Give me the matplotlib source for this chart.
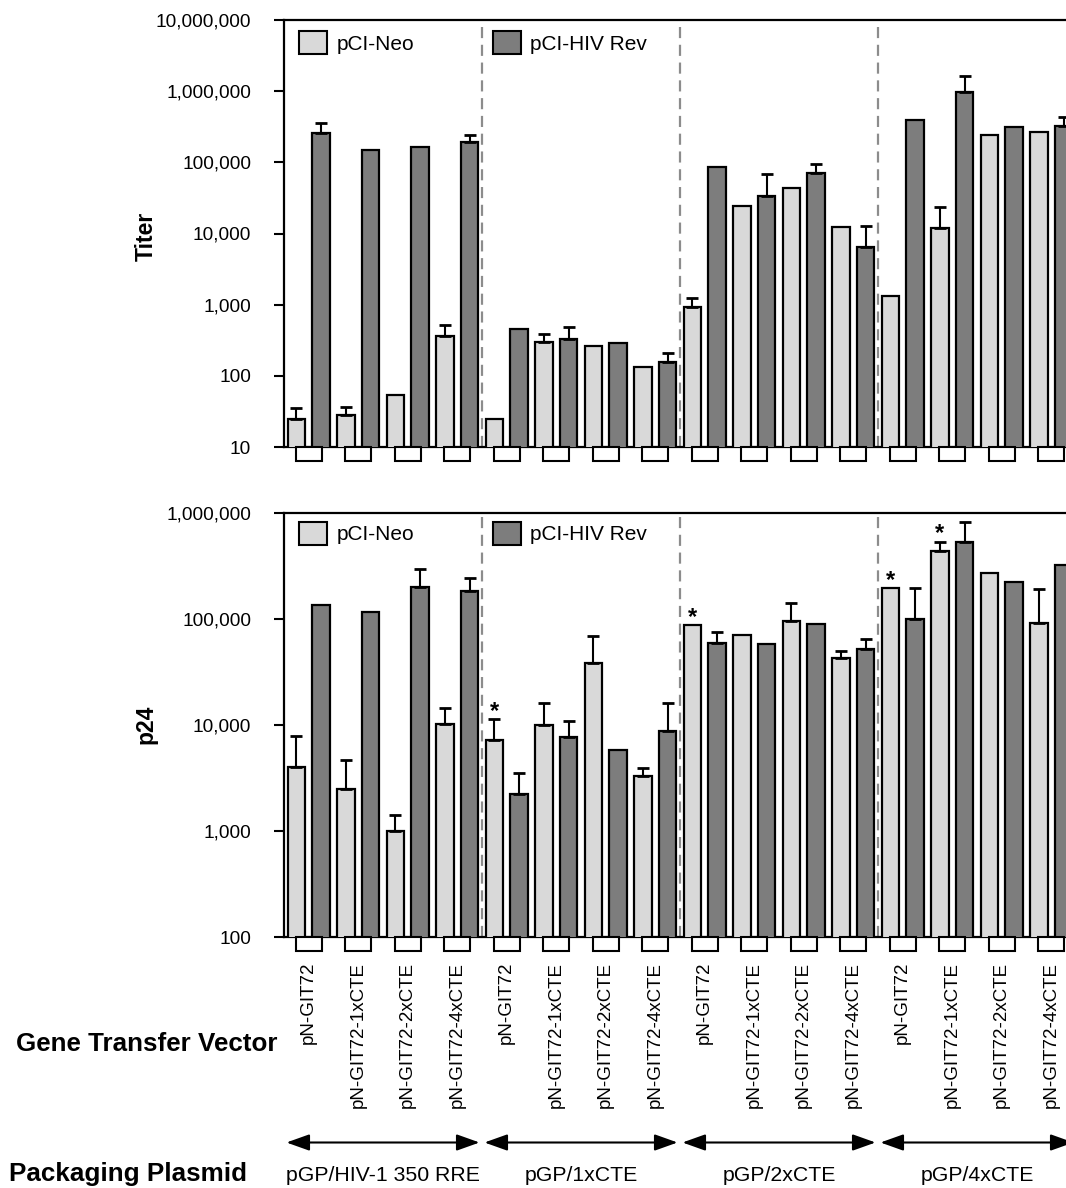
import numpy as np
import matplotlib
matplotlib.use('Agg')
import matplotlib.pyplot as plt
from matplotlib.patches import Patch, Rectangle
from matplotlib.ticker import FixedLocator, FixedFormatter, NullLocator

plt.rcParams['font.family'] = ['Liberation Sans', 'DejaVu Sans']

# ---------------- data ----------------
vectors = ['pN-GIT72', 'pN-GIT72-1xCTE', 'pN-GIT72-2xCTE', 'pN-GIT72-4xCTE'] * 4
packaging = ['pGP/HIV-1 350 RRE', 'pGP/1xCTE', 'pGP/2xCTE', 'pGP/4xCTE']
series = ['pCI-Neo', 'pCI-HIV Rev']

titer_neo = [25, 28, 53, 360, 25, 300, 265, 134, 940, 24600, 43200, 12200, 1320, 11800, 242000, 269000]
titer_neo_err = [35, 37, None, 520, None, 385, None, None, 1230, None, None, None, None, 23800, None, None]
titer_rev = [260000, 151000, 166000, 191000, 450, 332, 286, 155, 85100, 33700, 70800, 6520, 393000, 973000, 310000, 327000]
titer_rev_err = [353000, None, None, 244000, None, 481, None, 211, None, 68500, 94700, 12900, None, 1630000, None, 437000]

p24_neo = [4020, 2460, 994, 10200, 7220, 9930, 38700, 3300, 87100, 70600, 94400, 42900, 193000, 435000, 268000, 90300]
p24_neo_err = [7870, 4640, 1410, 14300, 11300, 15900, 69100, 3960, None, None, 139600, 49200, None, 533000, None, 189000]
p24_rev = [134600, 116000, 197600, 183700, 2220, 7710, 5770, 8710, 59400, 57300, 89100, 52100, 98600, 525000, 223400, 318600]
p24_rev_err = [None, None, 292000, 240000, 3530, 10830, None, 15900, 74300, None, None, 64800, 196000, 822000, None, None]
p24_neo_sig = [False, False, False, False, True, False, False, False,
               True, False, False, False, True, True, False, False]

titer_ticks = [10, 100, 1000, 10000, 100000, 1000000, 10000000]
p24_ticks = [100, 1000, 10000, 100000, 1000000]

# ---------------- style ----------------
LIGHT = '#d9d9d9'
DARK = '#7d7d7d'
W, H = 1066, 1188
fig = plt.figure(figsize=(W / 100, H / 100), dpi=100)


def px_axes(left, top, right, bottom):
    return fig.add_axes([left / W, 1 - bottom / H, (right - left) / W, (bottom - top) / H])


ax1 = px_axes(284, 20, 1076, 447)
ax2 = px_axes(284, 512.7, 1076, 937)

x = np.arange(len(vectors))
bw = 0.344
off = 0.2477


def draw_panel(ax, neo, neo_err, rev, rev_err, ticks, ax_h_px, leg_top_px):
    ax.set_yscale('log')
    ax.bar(x - off, neo, bw, color=LIGHT, edgecolor='black', linewidth=1.6, zorder=3)
    ax.bar(x + off, rev, bw, color=DARK, edgecolor='black', linewidth=1.6, zorder=3)
    for xs, vals, errs in ((x - off, neo, neo_err), (x + off, rev, rev_err)):
        idx = [i for i, e in enumerate(errs) if e is not None]
        if idx:
            xx = np.array([xs[i] for i in idx])
            vv = np.array([vals[i] for i in idx], dtype=float)
            ee = np.array([errs[i] for i in idx], dtype=float)
            ax.errorbar(xx, vv, yerr=[np.zeros_like(vv), ee - vv], fmt='none',
                        ecolor='black', elinewidth=1.5, capsize=4.5, capthick=2, zorder=4)
    ax.set_ylim(ticks[0], ticks[-1])
    ax.set_xlim(-0.5, 15.5)
    ax.yaxis.set_major_locator(FixedLocator(ticks))
    ax.yaxis.set_major_formatter(FixedFormatter([f'{t:,}' for t in ticks]))
    ax.yaxis.set_minor_locator(NullLocator())
    ax.tick_params(axis='y', direction='out', length=7.2, width=1.5, pad=16.5, labelsize=13.7)
    for s in ('left', 'top', 'bottom'):
        ax.spines[s].set_linewidth(1.6)
    ax.spines['right'].set_visible(False)
    for b in (3.5, 7.5, 11.5):
        ax.axvline(b, color='#8c8c8c', lw=1.6, ls=(0, (5, 3)), zorder=1)
    # boxes under each pair
    bh = 14 / ax_h_px
    for c in x:
        ax.add_patch(Rectangle((c - 0.265, -bh), 0.53, bh, transform=ax.get_xaxis_transform(),
                               facecolor='white', edgecolor='black', lw=1.5, clip_on=False, zorder=5))
    # legends
    ytop = 1 - leg_top_px / ax_h_px
    kw = dict(loc='upper left', frameon=False, fontsize=15, handlelength=1.35, handleheight=1.35,
              handletextpad=0.45, borderpad=0, borderaxespad=0)
    leg1 = ax.legend(handles=[Patch(facecolor=LIGHT, edgecolor='black', lw=1.5)], labels=[series[0]],
                     bbox_to_anchor=((299 - 284) / 792, ytop), **kw)
    ax.add_artist(leg1)
    ax.legend(handles=[Patch(facecolor=DARK, edgecolor='black', lw=1.5)], labels=[series[1]],
              bbox_to_anchor=((493 - 284) / 792, ytop), **kw)


draw_panel(ax1, titer_neo, titer_neo_err, titer_rev, titer_rev_err, titer_ticks, 427, 11)
draw_panel(ax2, p24_neo, p24_neo_err, p24_rev, p24_rev_err, p24_ticks, 424.3, 9)

ax1.set_xticks([])
ax2.set_xticks(x)
ax2.set_xticklabels(vectors, rotation=90, va='top', ha='center', fontsize=13.5)
ax2.tick_params(axis='x', length=0, pad=18)

# significance asterisks
for i, sig in enumerate(p24_neo_sig):
    if sig:
        top = p24_neo_err[i] if p24_neo_err[i] is not None else p24_neo[i]
        ax2.annotate('*', (x[i] - off, top), xytext=(0, 1), textcoords='offset points',
                     ha='center', va='baseline', fontsize=17, fontweight='bold', zorder=6)

# axis titles
fig.text(146 / W, 1 - 236 / H, 'Titer', rotation=90, ha='center', va='center', fontsize=16.5, fontweight='bold')
fig.text(146 / W, 1 - 724 / H, 'p24', rotation=90, ha='center', va='center', fontsize=16.5, fontweight='bold')
fig.text(16 / W, 1 - 1051 / H, 'Gene Transfer Vector', ha='left', va='baseline', fontsize=18.7, fontweight='bold')
fig.text(9 / W, 1 - 1181 / H, 'Packaging Plasmid', ha='left', va='baseline', fontsize=18.7, fontweight='bold')

# packaging plasmid arrows and labels
ah = 424.3
y_arrow = (937 - 1142.5) / ah
y_lab = (937 - 1181) / ah
trans = ax2.get_xaxis_transform()
for g, lab in enumerate(packaging):
    lo, hi = 4 * g - 0.5, 4 * g + 3.5
    ax2.annotate('', xy=(hi - 0.05, y_arrow), xytext=(lo + 0.05, y_arrow), xycoords=trans, textcoords=trans,
                 arrowprops=dict(arrowstyle='<|-|>,head_length=0.7,head_width=0.25', mutation_scale=20,
                                 color='black', lw=1.5, shrinkA=0, shrinkB=0), annotation_clip=False)
    ax2.text(4 * g + 1.5, y_lab, lab, transform=trans, ha='center', va='baseline', fontsize=15.3)

fig.savefig('out.png', dpi=100)
